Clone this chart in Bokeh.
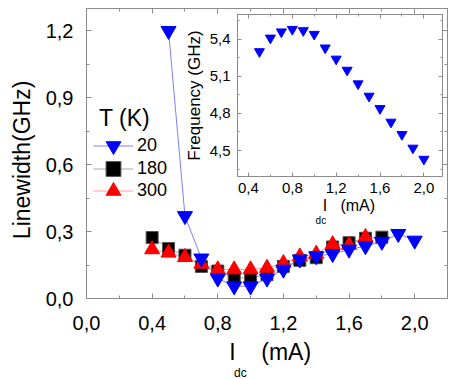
from bokeh.plotting import figure
from bokeh.layouts import column
from bokeh.models import (Range1d, LinearAxis, FixedTicker, CustomJSTickFormatter,
                          Legend, LegendItem, Label)
from bokeh.embed import file_html
from bokeh.resources import INLINE

# ---- data ----
x20 = [0.5, 0.6, 0.7, 0.8, 0.9, 1.0, 1.1, 1.2, 1.3, 1.4, 1.5, 1.6, 1.7, 1.8, 1.9, 2.0]
lw20 = [1.20, 0.37, 0.18, 0.09, 0.055, 0.055, 0.09, 0.13, 0.175, 0.19, 0.20, 0.22, 0.235, 0.255, 0.29, 0.26]
x180 = [0.4, 0.5, 0.6, 0.7, 0.8, 0.9, 1.0, 1.1, 1.2, 1.3, 1.4, 1.5, 1.6, 1.7, 1.8]
lw180 = [0.273, 0.224, 0.194, 0.144, 0.123, 0.093, 0.092, 0.107, 0.144, 0.171, 0.183, 0.231, 0.25, 0.27, 0.275]
x300 = [0.4, 0.5, 0.6, 0.7, 0.8, 0.9, 1.0, 1.1, 1.2, 1.3, 1.4, 1.5, 1.6, 1.7]
lw300 = [0.22, 0.205, 0.185, 0.155, 0.13, 0.13, 0.13, 0.137, 0.158, 0.188, 0.2, 0.243, 0.24, 0.275]
xf = [0.5, 0.6, 0.7, 0.8, 0.9, 1.0, 1.1, 1.2, 1.3, 1.4, 1.5, 1.6, 1.7, 1.8, 1.9, 2.0]
freq = [5.30, 5.41, 5.46, 5.48, 5.47, 5.44, 5.33, 5.24, 5.15, 5.04, 4.94, 4.84, 4.73, 4.63, 4.52, 4.43]
legend_title = "T (K)"
legend_labels = ["20", "180", "300"]

main_xticks = [0.0, 0.4, 0.8, 1.2, 1.6, 2.0]
main_xminor = [0.2, 0.6, 1.0, 1.4, 1.8, 2.2]
main_yticks = [0.0, 0.3, 0.6, 0.9, 1.2]
main_yminor = [0.15, 0.45, 0.75, 1.05]
ins_xticks = [0.4, 0.8, 1.2, 1.6, 2.0]
ins_xminor = [0.6, 1.0, 1.4, 1.8]
ins_yticks = [4.5, 4.8, 5.1, 5.4]
ins_yminor = [4.35, 4.65, 4.95, 5.25, 5.55]

FONT = "Liberation Sans"
GRAY = "#8c8c8c"
NB = "\u00a0"
W, H = 455, 379

fmt_code = "return tick.toFixed(1).replace('.', ',')"


def style_axis(ax, major, minor, size, standoff, show=True, tin=5, mtin=3):
    ax.ticker = FixedTicker(ticks=major, minor_ticks=minor)
    if show:
        ax.formatter = CustomJSTickFormatter(code=fmt_code)
        ax.major_label_text_font_size = size
    else:
        ax.formatter = CustomJSTickFormatter(code="return ''")
        ax.major_label_text_font_size = "0px"
    ax.major_tick_in = tin
    ax.major_tick_out = 0
    ax.minor_tick_in = mtin
    ax.minor_tick_out = 0
    ax.axis_line_color = GRAY
    ax.major_tick_line_color = GRAY
    ax.minor_tick_line_color = GRAY
    ax.major_label_text_font = FONT
    ax.major_label_text_color = "black"
    ax.major_label_standoff = standoff if show else 0
    ax.axis_label_text_font = FONT
    ax.axis_label_text_font_style = "normal"
    ax.axis_label_text_color = "black"


# ---- main figure ----
p = figure(width=W, height=H, x_range=Range1d(0, 2.2), y_range=Range1d(0, 1.3),
           output_backend="svg", toolbar_location=None,
           min_border_left=86, min_border_right=8, min_border_top=8, min_border_bottom=81)
p.frame_align = False
p.xgrid.visible = False
p.ygrid.visible = False
p.outline_line_color = GRAY

style_axis(p.xaxis[0], main_xticks, main_xminor, "20px", 17)
style_axis(p.yaxis[0], main_yticks, main_yminor, "20px", 13)
p.yaxis[0].axis_label = "Linewidth(GHz)" + NB * 2
p.yaxis[0].axis_label_text_font_size = "23px"
p.yaxis[0].axis_label_standoff = 8
p.xaxis[0].axis_label = NB + "I" + NB * 4 + "(mA)"
p.xaxis[0].axis_label_text_font_size = "23px"
p.xaxis[0].axis_label_standoff = 6
ax_top = LinearAxis()
style_axis(ax_top, main_xticks, main_xminor, "0px", 0, show=False)
p.add_layout(ax_top, "above")
ax_right = LinearAxis()
style_axis(ax_right, main_yticks, main_yminor, "0px", 0, show=False)
p.add_layout(ax_right, "right")

kl = p.line(x180, lw180, line_color="#a8a8a8", line_width=1)
rl = p.line(x300, lw300, line_color="#ff9c9c", line_width=1)
bl = p.line(x20, lw20, line_color="#7f7fff", line_width=1)
ks = p.scatter(x180, lw180, marker="square", size=12, fill_color="black", line_color="#505050")
rs = p.scatter(x300, lw300, marker="triangle", size=15, fill_color="red", line_color="red")
bs = p.scatter(x20, lw20, marker="inverted_triangle", size=15, fill_color="blue", line_color="blue")
blank = p.line(x=[], y=[], line_alpha=0)

leg_common = dict(label_text_font=FONT, label_text_font_size="18px", label_text_color="black",
                  glyph_width=40, glyph_height=37, label_height=20, spacing=0,
                  label_standoff=4, padding=0, margin=0,
                  border_line_color=None, background_fill_alpha=0)
leg0 = Legend(items=[LegendItem(label=legend_title, renderers=[blank])],
              location=(7, 166), label_text_font=FONT, label_text_font_size="23px",
              label_text_color="black", glyph_width=2, glyph_height=28, label_height=28,
              label_standoff=4, padding=0, margin=0, spacing=0,
              border_line_color=None, background_fill_alpha=0)
leg1 = Legend(items=[LegendItem(label=legend_labels[0], renderers=[bl, bs])],
              location=(7, 134), **leg_common)
leg2 = Legend(items=[LegendItem(label=legend_labels[1], renderers=[kl, ks])],
              location=(7, 111), **leg_common)
leg3 = Legend(items=[LegendItem(label=legend_labels[2], renderers=[rl, rs])],
              location=(7, 89), **leg_common)
for lg in (leg0, leg1, leg2, leg3):
    p.add_layout(lg)

# subscript of the inset's x-axis label (lies inside the main frame)
p.add_layout(Label(x=1.396, y=0.35, text="dc", text_align="left", text_baseline="alphabetic",
                   text_font=FONT, text_font_size="10px", text_color="black"))

# ---- inset (same canvas size, overlaid) ----
q = figure(width=W, height=H, x_range=Range1d(0.3, 2.17), y_range=Range1d(4.29, 5.6),
           output_backend="svg", toolbar_location=None,
           min_border_left=237, min_border_right=13, min_border_top=14, min_border_bottom=203)
q.frame_align = False
q.xgrid.visible = False
q.ygrid.visible = False
q.outline_line_color = GRAY
q.background_fill_color = None
q.border_fill_color = None
style_axis(q.xaxis[0], ins_xticks, ins_xminor, "15px", 6, tin=4, mtin=2)
style_axis(q.yaxis[0], ins_yticks, ins_yminor, "15px", 7, tin=4, mtin=2)
q.yaxis[0].axis_label = "Frequency (GHz)"
q.yaxis[0].axis_label_text_font_size = "17px"
q.yaxis[0].axis_label_standoff = 3
q.xaxis[0].axis_label = NB * 4 + "I" + NB * 3 + "(mA)"
q.xaxis[0].axis_label_text_font_size = "16px"
q.xaxis[0].axis_label_standoff = 1
qt = LinearAxis()
style_axis(qt, ins_xticks, ins_xminor, "0px", 0, show=False, tin=4, mtin=2)
q.add_layout(qt, "above")
qr = LinearAxis()
style_axis(qr, ins_yticks, ins_yminor, "0px", 0, show=False, tin=4, mtin=2)
q.add_layout(qr, "right")

q.scatter(xf, freq, marker="inverted_triangle", size=10, fill_color="blue", line_color="blue")
q.margin = (-H, 0, 0, 0)

# ---- transparent overlay holding the subscript of the main x-axis label ----
r = figure(width=W, height=H, x_range=Range1d(0, 70), y_range=Range1d(0, 34),
           x_axis_type=None, y_axis_type=None,
           output_backend="svg", toolbar_location=None,
           min_border_left=200, min_border_right=W - 270, min_border_top=H - 34, min_border_bottom=0)
r.frame_align = False
r.xgrid.visible = False
r.ygrid.visible = False
r.outline_line_color = None
r.background_fill_color = None
r.border_fill_color = None
r.add_layout(Label(x=33.5, y=6.5, text="dc", text_align="left", text_baseline="alphabetic",
                   text_font=FONT, text_font_size="12px", text_color="black"))
r.margin = (-H, 0, 0, 0)

layout = column(p, q, r)
open("out.html", "w").write(file_html(layout, INLINE))
